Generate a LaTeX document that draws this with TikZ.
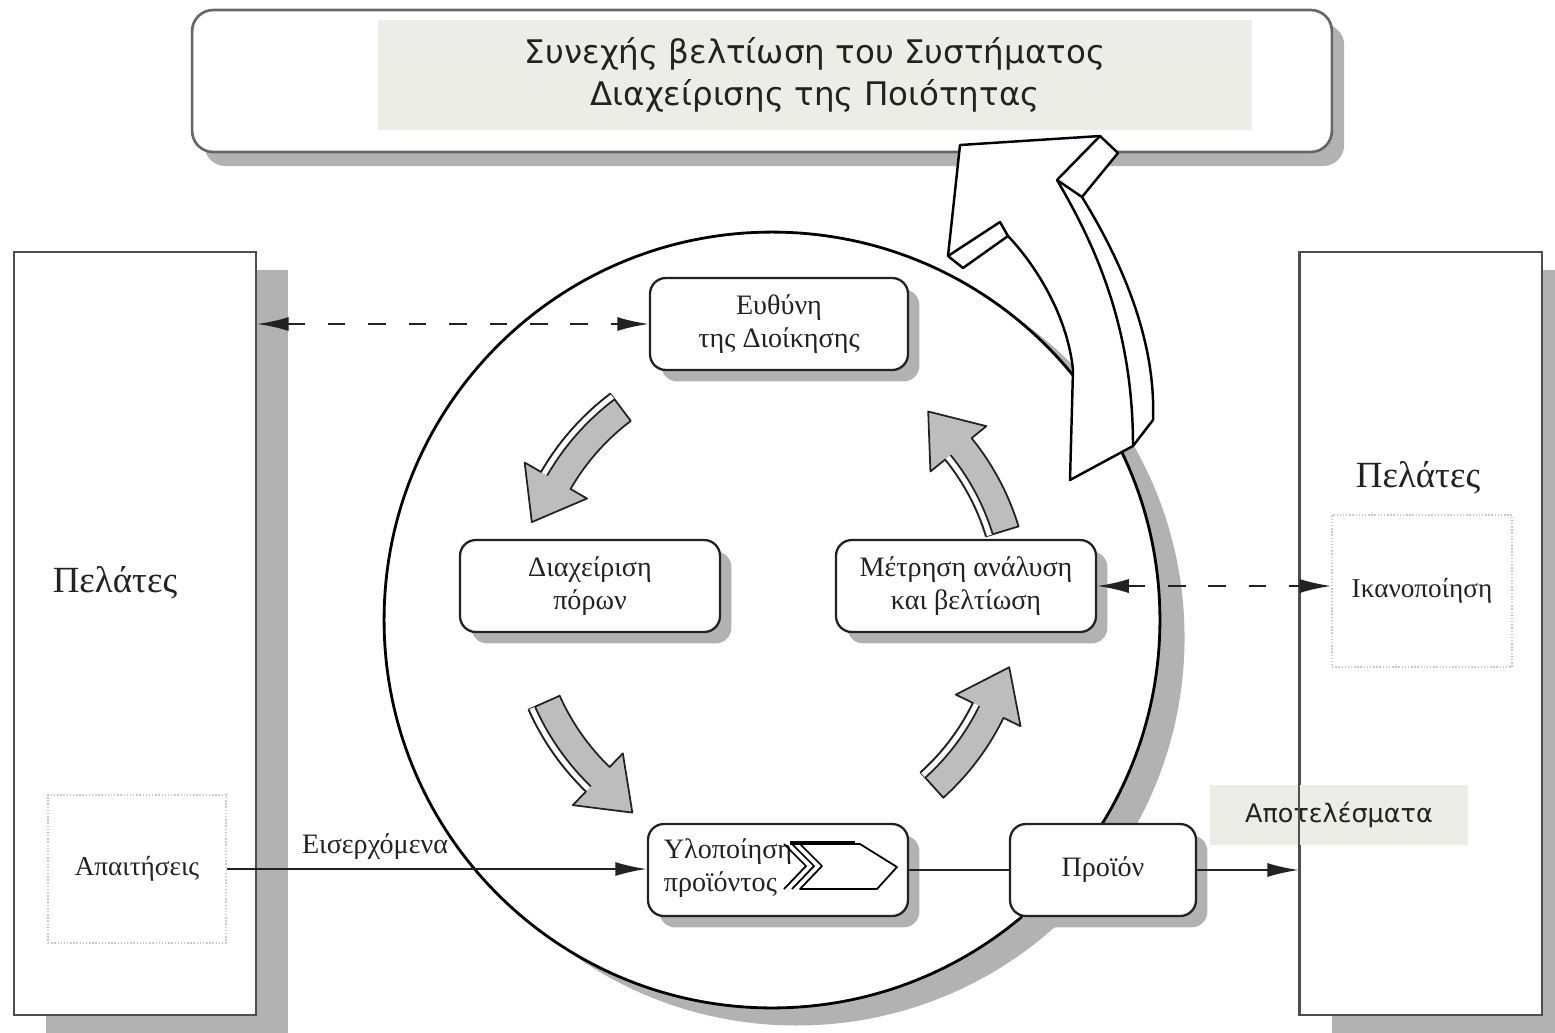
\documentclass[tikz,border=0pt]{standalone}
\usepackage{fontspec}
\setmainfont{Liberation Serif}
\newfontfamily\grsans{DejaVu Sans}
\usetikzlibrary{calc,arrows.meta,shadows}
\definecolor{shade}{HTML}{B2B2B2}
\definecolor{beige}{HTML}{EEEDE5}
\definecolor{ink}{HTML}{222222}
\definecolor{agray}{HTML}{BDBDBD}
\definecolor{dotgray}{HTML}{C8C8C8}
\tikzset{
  pshadow/.style={drop shadow={shadow xshift=6.5pt, shadow yshift=-6.5pt, fill=shade, opacity=1}},
  procbox/.style={draw=ink, line width=1.3pt, rounded corners=9pt, fill=white, minimum width=5.16cm, minimum height=1.84cm, align=center, font=\fontsize{16}{19}\selectfont, text=ink, pshadow},
  custbox/.style={draw=ink!80, line width=1.2pt, fill=white, minimum width=4.84cm, minimum height=15.26cm, drop shadow={shadow xshift=18pt, shadow yshift=-10pt, fill=shade, opacity=1}},
  dotbox/.style={draw=dotgray, densely dotted, line width=0.8pt, minimum width=3.56cm, minimum height=2.96cm, text=ink, font=\fontsize{15.5}{18}\selectfont},
  flow/.style={line width=1.3pt, draw=ink},
  tipr/.style={-{Latex[length=18pt,width=8pt]}},
  tiplr/.style={{Latex[length=18pt,width=8pt]}-{Latex[length=18pt,width=8pt]}},
  dflow/.style={flow, dash pattern=on 10pt off 13pt},
  lbl/.style={text=ink, inner sep=0pt},
  garrow/.style={fill=agray, draw=ink, line width=1pt, line join=round},
  bigarrow/.style={fill=white, draw=black, line width=1.4pt, line join=round},
}
\begin{document}
\begin{tikzpicture}[x=0.02cm, y=0.02cm]
\useasboundingbox (0,0) rectangle (1555,-1032);
\clip (0,0) rectangle (1555,-1032);
\fill[white] (0,0) rectangle (1555,-1032);

% title
\node[draw=gray!80!black, line width=1.5pt, rounded corners=12pt, fill=white, minimum width=22.8cm, minimum height=2.84cm, drop shadow={shadow xshift=7pt, shadow yshift=-8pt, fill=shade, opacity=1}] (title) at (762,-81) {};
\node[fill=beige, minimum width=17.48cm, minimum height=2.2cm, align=center, font=\grsans\fontsize{18.5}{24}\selectfont, text=ink] (titletxt) at (815,-75) {Συνεχής βελτίωση του Συστήματος\\Διαχείρισης της Ποιότητας};

% customers
\node[custbox] (custL) at (135,-633.5) {};
\node[custbox] (custR) at (1421,-633.5) {};

% circle
\node[circle, draw=black, line width=1.6pt, fill=white, minimum size=15.52cm, drop shadow={shadow xshift=14pt, shadow yshift=-10pt, fill=shade, opacity=1}] (cyc) at (772,-620) {};

% big improvement arrow
\draw[bigarrow] (1070,-480) -- (1073,-370) .. controls (1068,-320) and (1040,-270) .. (1008,-236) -- (963,-268) -- (948,-256) -- (960,-145) -- (1100,-136) -- (1118,-153) -- (1082,-197) .. controls (1122,-262) and (1156,-340) .. (1153,-420) -- (1133,-446) -- cycle;
\draw[bigarrow, fill=none] (1100,-136) -- (1057,-180) .. controls (1097,-248) and (1133,-330) .. (1133,-446);
\draw[bigarrow, fill=none] (1057,-180) -- (1082,-197);
\draw[bigarrow, fill=none] (948,-256) -- (1000,-222) -- (1008,-236);

% cycle arrows
\coordinate (ac) at (768,-603);
\foreach \a/\b/\ra/\rb in {127/150/255/262, 204/226/255/262, 312/334/228/235, 17/39/228/235}{
  \draw[garrow] ($(ac)+(\a:262)$) arc[start angle=\a, end angle=\b, radius=262]
     -- ($(ac)+(\b:281)$) -- ($(ac)+(\b:245)+({\b+90}:48)$) -- ($(ac)+(\b:209)$)
     -- ($(ac)+(\b:228)$) arc[start angle=\b, end angle=\a, radius=228] -- cycle;
  \fill[white] ($(ac)+(\a:\rb)$) arc[start angle=\a, end angle=\b, radius=\rb]
     -- ($(ac)+(\b:\ra)$) arc[start angle=\b, end angle=\a, radius=\ra] -- cycle;
  \draw[garrow, fill=none] ($(ac)+(\a:\ra)$) arc[start angle=\a, end angle=\b, radius=\ra];
  \draw[garrow, fill=none] ($(ac)+(\a:\rb)$) arc[start angle=\a, end angle=\b, radius=\rb];
}

% process boxes
\node[procbox] (mgmt) at (779,-324) {Ευθύνη\\της Διοίκησης};
\node[procbox, minimum width=5.2cm] (res) at (590,-586) {Διαχείριση\\πόρων};
\node[procbox, minimum width=5.2cm] (meas) at (966,-586) {Μέτρηση ανάλυση\\και βελτίωση};
\node[procbox, minimum width=5.2cm] (real) at (778,-870) {};
\node[lbl, font=\fontsize{16}{19}\selectfont, align=left] (realtxt) at (728,-868) {Υλοποίηση\\προϊόντος};
\draw[line width=1pt, fill=white, line join=round] (800,-844) -- (860,-844) -- (897,-867) -- (877,-889) -- (800,-889) -- (822,-866) -- cycle;
\draw[line width=1pt] (792,-844) -- (814,-866) -- (792,-889);
\draw[line width=1pt] (784,-844) -- (806,-866) -- (784,-889);
\draw[line width=2.2pt] (790,-843) -- (855,-843);
\node[procbox, minimum width=3.72cm] (prod) at (1103,-870) {Προϊόν};

% results
\node[fill=beige, minimum width=5.16cm, minimum height=1.2cm, font=\grsans\fontsize{14.5}{17}\selectfont, text=ink] (results) at (1339,-815) {Αποτελέσματα};
\draw[ink!80, line width=1.2pt] (custR.north west) -- (custR.south west);

% customer texts
\node[lbl, font=\fontsize{21}{24}\selectfont] (custLname) at (115,-583) {Πελάτες};
\node[dotbox] (req) at (137,-869) {Απαιτήσεις};
\node[lbl, font=\fontsize{21}{24}\selectfont] (custRname) at (1418,-478) {Πελάτες};
\node[dotbox, minimum width=3.6cm, minimum height=3.04cm] (sat) at (1422,-591) {Ικανοποίηση};

% connectors
\draw[dflow, tiplr] (mgmt.west -| custL.east) -- (mgmt.west);
\draw[dflow, tiplr] (meas.east) -- (meas.east -| sat.west);
\draw[flow, tipr] (req.east) -- (req.east -| real.west);
\draw[flow] (real.east) -- (prod.west);
\draw[flow, tipr] (prod.east) -- (prod.east -| custR.west);

\node[lbl, font=\fontsize{16}{19}\selectfont] (inputs) at (375,-847) {Εισερχόμενα};
\end{tikzpicture}
\end{document}
